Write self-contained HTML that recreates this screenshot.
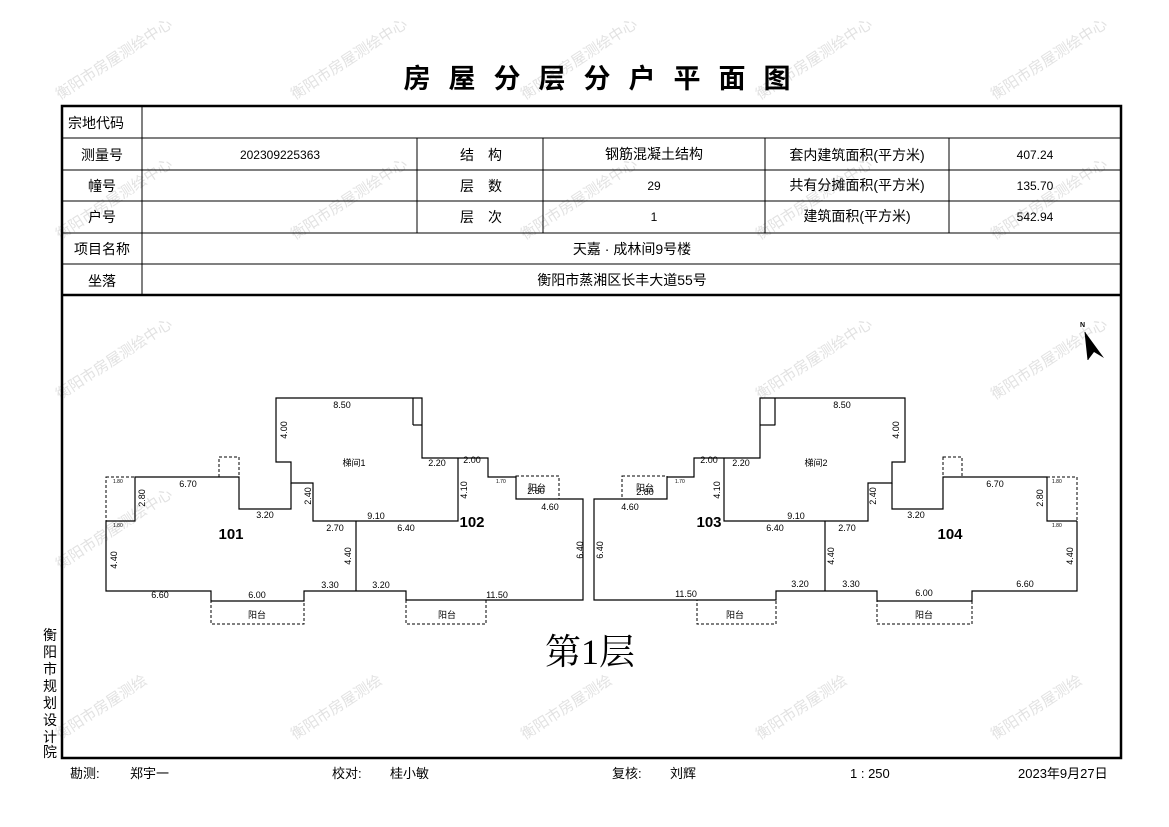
<!DOCTYPE html>
<html><head><meta charset="utf-8"><style>
html,body{margin:0;padding:0;background:#fff}
svg{display:block}
text{font-family:"Liberation Sans","WenQuanYi Zen Hei","Noto Sans CJK SC",sans-serif;fill:#000}
.t{font-size:14px}
.d{font-size:9px;font-family:"Liberation Mono","WenQuanYi Zen Hei",monospace}
.s{font-size:5px}
.wm{font-size:15px;fill:#e2e2e2}
</style></head><body>
<svg width="1169" height="827" viewBox="0 0 1169 827" xmlns="http://www.w3.org/2000/svg">
<g>
<text class="wm" transform="translate(60,100) rotate(-33)">衡阳市房屋测绘中心</text>
<text class="wm" transform="translate(295,100) rotate(-33)">衡阳市房屋测绘中心</text>
<text class="wm" transform="translate(525,100) rotate(-33)">衡阳市房屋测绘中心</text>
<text class="wm" transform="translate(760,100) rotate(-33)">衡阳市房屋测绘中心</text>
<text class="wm" transform="translate(995,100) rotate(-33)">衡阳市房屋测绘中心</text>
<text class="wm" transform="translate(60,240) rotate(-33)">衡阳市房屋测绘中心</text>
<text class="wm" transform="translate(295,240) rotate(-33)">衡阳市房屋测绘中心</text>
<text class="wm" transform="translate(525,240) rotate(-33)">衡阳市房屋测绘中心</text>
<text class="wm" transform="translate(760,240) rotate(-33)">衡阳市房屋测绘中心</text>
<text class="wm" transform="translate(995,240) rotate(-33)">衡阳市房屋测绘中心</text>
<text class="wm" transform="translate(60,400) rotate(-33)">衡阳市房屋测绘中心</text>
<text class="wm" transform="translate(760,400) rotate(-33)">衡阳市房屋测绘中心</text>
<text class="wm" transform="translate(995,400) rotate(-33)">衡阳市房屋测绘中心</text>
<text class="wm" transform="translate(60,570) rotate(-33)">衡阳市房屋测绘中心</text>
<text class="wm" transform="translate(60,740) rotate(-33)">衡阳市房屋测绘</text>
<text class="wm" transform="translate(295,740) rotate(-33)">衡阳市房屋测绘</text>
<text class="wm" transform="translate(525,740) rotate(-33)">衡阳市房屋测绘</text>
<text class="wm" transform="translate(760,740) rotate(-33)">衡阳市房屋测绘</text>
<text class="wm" transform="translate(995,740) rotate(-33)">衡阳市房屋测绘</text>
</g>
<text x="606" y="88" text-anchor="middle" style="font-size:27px;font-weight:bold;letter-spacing:18px">房屋分层分户平面图</text>
<g stroke="#000" fill="none">
<rect x="62" y="106" width="1059" height="652" stroke-width="2.5"/>
<line x1="62" y1="295" x2="1121" y2="295" stroke-width="2.5"/>
<g stroke-width="1">
<line x1="62" y1="138" x2="1121" y2="138"/>
<line x1="62" y1="170" x2="1121" y2="170"/>
<line x1="62" y1="201" x2="1121" y2="201"/>
<line x1="62" y1="233" x2="1121" y2="233"/>
<line x1="62" y1="264" x2="1121" y2="264"/>
<line x1="142" y1="106" x2="142" y2="295"/>
<line x1="417" y1="138" x2="417" y2="233"/>
<line x1="543" y1="138" x2="543" y2="233"/>
<line x1="765" y1="138" x2="765" y2="233"/>
<line x1="949" y1="138" x2="949" y2="233"/>
</g></g>
<g class="t">
<text x="68" y="128">宗地代码</text>
<text x="102" y="160" text-anchor="middle">测量号</text>
<text x="102" y="191" text-anchor="middle">幢号</text>
<text x="102" y="222" text-anchor="middle">户号</text>
<text x="102" y="254" text-anchor="middle">项目名称</text>
<text x="102" y="286" text-anchor="middle">坐落</text>
<text x="280" y="159" text-anchor="middle" style="font-size:12px">202309225363</text>
<text x="481" y="160" text-anchor="middle">结　构</text>
<text x="481" y="191" text-anchor="middle">层　数</text>
<text x="481" y="222" text-anchor="middle">层　次</text>
<text x="654" y="159" text-anchor="middle">钢筋混凝土结构</text>
<text x="654" y="190" text-anchor="middle" style="font-size:12px">29</text>
<text x="654" y="221" text-anchor="middle" style="font-size:12px">1</text>
<text x="857" y="160" text-anchor="middle">套内建筑面积(平方米)</text>
<text x="857" y="190" text-anchor="middle">共有分摊面积(平方米)</text>
<text x="857" y="221" text-anchor="middle">建筑面积(平方米)</text>
<text x="1035" y="159" text-anchor="middle" style="font-size:12px">407.24</text>
<text x="1035" y="190" text-anchor="middle" style="font-size:12px">135.70</text>
<text x="1035" y="221" text-anchor="middle" style="font-size:12px">542.94</text>
<text x="632" y="254" text-anchor="middle">天嘉 · 成林间9号楼</text>
<text x="622" y="285" text-anchor="middle">衡阳市蒸湘区长丰大道55号</text>
</g>
<g stroke="#000" stroke-width="1.2" fill="none">
<polyline points="106,521 106,591 211,591 211,601 304,601 304,591 406,591 406,600 583,600 583,499 516,499 516,477 488,477 488,458 458,458 458,521 313,521 313,483 291,483 291,462 276,462 276,398 422,398 422,458 458,458"/>
<polyline points="106,521 135,521 135,477 239,477 239,509 291,509 291,483"/>
<line x1="356" y1="521" x2="356" y2="591"/>
<line x1="413" y1="398" x2="413" y2="425"/>
<line x1="413" y1="425" x2="422" y2="425"/>
<polyline points="1077,521 1077,591 972,591 972,601 877,601 877,591 776,591 776,600 594,600 594,499 667,499 667,477 694,477 694,458 724,458 724,521 868,521 868,483 892,483 892,462 905,462 905,398 760,398 760,458 724,458"/>
<polyline points="1077,521 1047,521 1047,477 943,477 943,509 892,509 892,483"/>
<line x1="825" y1="521" x2="825" y2="591"/>
<line x1="775" y1="398" x2="775" y2="425"/>
<line x1="760" y1="425" x2="775" y2="425"/>
</g>
<g stroke="#000" stroke-width="1" fill="none" stroke-dasharray="3,2">
<rect x="106" y="477" width="29" height="44"/>
<rect x="219" y="457" width="20" height="20"/>
<rect x="413" y="398" width="9" height="27"/>
<rect x="516" y="476" width="43" height="23"/>
<rect x="211" y="601" width="93" height="23"/>
<rect x="406" y="600" width="80" height="24"/>
<rect x="622" y="476" width="45" height="23"/>
<rect x="697" y="600" width="79" height="24"/>
<rect x="877" y="601" width="95" height="23"/>
<rect x="1047" y="477" width="30" height="44"/>
<rect x="943" y="457" width="19" height="20"/>
<rect x="760" y="398" width="15" height="27"/>
</g>
<g class="d">
<text x="342" y="408" text-anchor="middle">8.50</text>
<text x="354" y="466" text-anchor="middle">梯间1</text>
<text x="188" y="487" text-anchor="middle">6.70</text>
<text x="265" y="518" text-anchor="middle">3.20</text>
<text x="376" y="519" text-anchor="middle">9.10</text>
<text x="406" y="531" text-anchor="middle">6.40</text>
<text x="335" y="531" text-anchor="middle">2.70</text>
<text x="160" y="598" text-anchor="middle">6.60</text>
<text x="257" y="598" text-anchor="middle">6.00</text>
<text x="330" y="588" text-anchor="middle">3.30</text>
<text x="381" y="588" text-anchor="middle">3.20</text>
<text x="497" y="598" text-anchor="middle">11.50</text>
<text x="550" y="510" text-anchor="middle">4.60</text>
<text x="437" y="466" text-anchor="middle">2.20</text>
<text x="472" y="463" text-anchor="middle">2.00</text>
<text x="536" y="494" text-anchor="middle">2.80</text>
<text x="537" y="491" text-anchor="middle">阳台</text>
<text x="257" y="618" text-anchor="middle">阳台</text>
<text x="447" y="618" text-anchor="middle">阳台</text>
<text x="842" y="408" text-anchor="middle">8.50</text>
<text x="816" y="466" text-anchor="middle">梯间2</text>
<text x="995" y="487" text-anchor="middle">6.70</text>
<text x="916" y="518" text-anchor="middle">3.20</text>
<text x="796" y="519" text-anchor="middle">9.10</text>
<text x="775" y="531" text-anchor="middle">6.40</text>
<text x="847" y="531" text-anchor="middle">2.70</text>
<text x="1025" y="587" text-anchor="middle">6.60</text>
<text x="924" y="596" text-anchor="middle">6.00</text>
<text x="851" y="587" text-anchor="middle">3.30</text>
<text x="800" y="587" text-anchor="middle">3.20</text>
<text x="686" y="597" text-anchor="middle">11.50</text>
<text x="630" y="510" text-anchor="middle">4.60</text>
<text x="741" y="466" text-anchor="middle">2.20</text>
<text x="709" y="463" text-anchor="middle">2.00</text>
<text x="645" y="495" text-anchor="middle">2.80</text>
<text x="645" y="491" text-anchor="middle">阳台</text>
<text x="735" y="618" text-anchor="middle">阳台</text>
<text x="924" y="618" text-anchor="middle">阳台</text>
<text transform="translate(287,430) rotate(-90)" text-anchor="middle">4.00</text>
<text transform="translate(899,430) rotate(-90)" text-anchor="middle">4.00</text>
<text transform="translate(467,490) rotate(-90)" text-anchor="middle">4.10</text>
<text transform="translate(720,490) rotate(-90)" text-anchor="middle">4.10</text>
<text transform="translate(117,560) rotate(-90)" text-anchor="middle">4.40</text>
<text transform="translate(351,556) rotate(-90)" text-anchor="middle">4.40</text>
<text transform="translate(834,556) rotate(-90)" text-anchor="middle">4.40</text>
<text transform="translate(1073,556) rotate(-90)" text-anchor="middle">4.40</text>
<text transform="translate(583,550) rotate(-90)" text-anchor="middle">6.40</text>
<text transform="translate(603,550) rotate(-90)" text-anchor="middle">6.40</text>
<text transform="translate(145,498) rotate(-90)" text-anchor="middle">2.80</text>
<text transform="translate(1043,498) rotate(-90)" text-anchor="middle">2.80</text>
<text transform="translate(311,496) rotate(-90)" text-anchor="middle">2.40</text>
<text transform="translate(876,496) rotate(-90)" text-anchor="middle">2.40</text>
</g>
<g class="s">
<text x="113" y="483">1.80</text><text x="113" y="527">1.80</text>
<text x="1052" y="483">1.80</text><text x="1052" y="527">1.80</text>
<text x="496" y="483">1.70</text><text x="675" y="483">1.70</text>
</g>
<g style="font-size:15px;font-weight:bold;font-family:'Liberation Serif',serif">
<text x="231" y="539" text-anchor="middle">101</text>
<text x="472" y="527" text-anchor="middle">102</text>
<text x="709" y="527" text-anchor="middle">103</text>
<text x="950" y="539" text-anchor="middle">104</text>
</g>
<text x="590" y="664" text-anchor="middle" style="font-size:36px;font-family:'Liberation Serif','Noto Serif CJK SC',serif">第1层</text>
<text x="1080" y="327" style="font-size:7px;font-weight:bold">N</text>
<polygon points="1085,332 1104,358 1094,352 1088,360" fill="#000"/>
<polyline points="1085,332 1088,360" stroke="#000" fill="none"/>
<g class="t" style="font-size:14px">
<text x="43" y="640">衡</text><text x="43" y="657">阳</text><text x="43" y="674">市</text><text x="43" y="691">规</text>
<text x="43" y="708">划</text><text x="43" y="725">设</text><text x="43" y="742">计</text><text x="43" y="757">院</text>
</g>
<g class="t" style="font-size:13px">
<text x="70" y="778">勘测:</text><text x="130" y="778">郑宇一</text>
<text x="332" y="778">校对:</text><text x="390" y="778">桂小敏</text>
<text x="612" y="778">复核:</text><text x="670" y="778">刘辉</text>
<text x="850" y="778">1  :  250</text>
<text x="1018" y="778">2023年9月27日</text>
</g>
</svg>
</body></html>
